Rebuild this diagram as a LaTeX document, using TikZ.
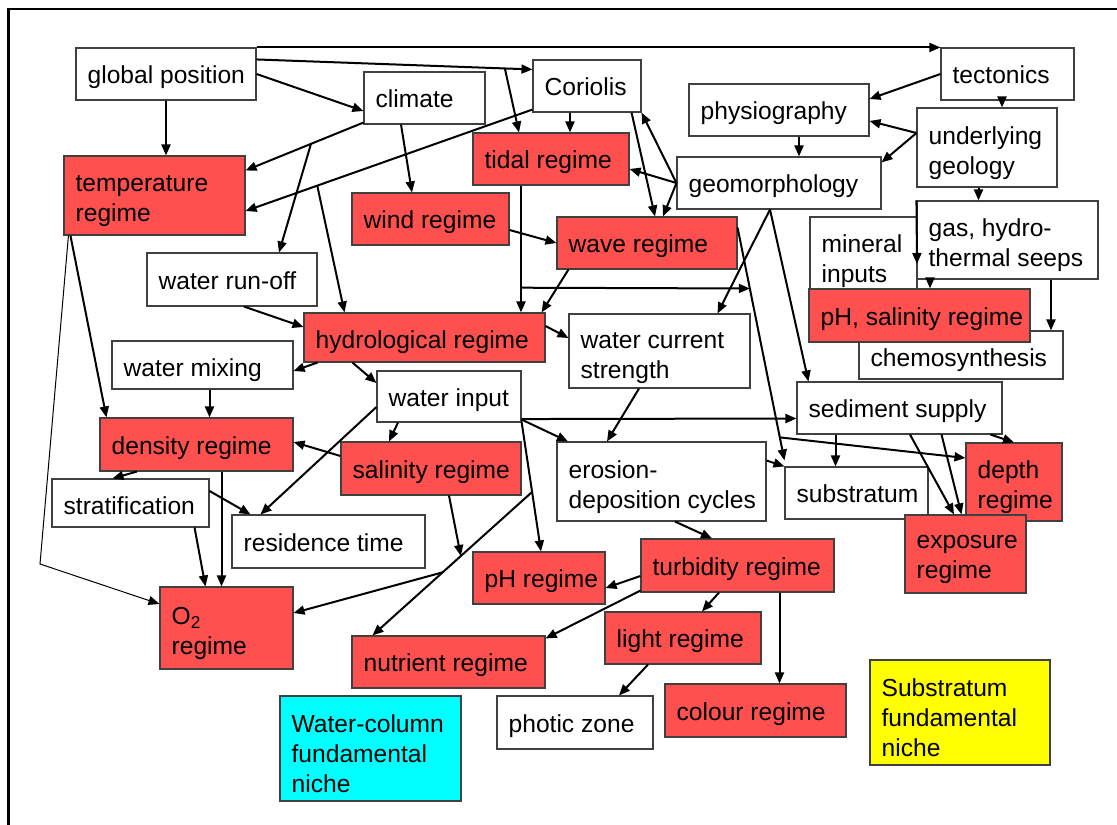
\documentclass[tikz,border=0pt]{standalone}
\usepackage{fontspec}
\setmainfont{Liberation Sans}
\usetikzlibrary{arrows.meta}
\definecolor{regimered}{RGB}{255,80,80}
\definecolor{nichecyan}{RGB}{0,255,255}
\definecolor{nicheyellow}{RGB}{255,255,0}
\tikzset{
  box/.style args={#1x#2}{draw=black!75, line width=1.1pt, fill=white,
    minimum width=#1pt, minimum height=#2pt, inner sep=0pt},
  regime/.style={fill=regimered},
  txt/.style={anchor=west, align=left, inner xsep=12pt, inner ysep=0pt, yshift=-3.5pt,
    execute at begin node=\strut, execute at end node=\strut},
  txt2/.style={txt, yshift=-4pt},
  arr/.style={line width=2pt, -{Triangle[length=11pt,width=9pt]}},
  thinarr/.style={line width=1pt, -{Triangle[length=11pt,width=9pt]}},
}
\begin{document}
\begin{tikzpicture}[x=1pt, y=-1pt, font=\fontsize{24.6}{30}\selectfont]
  \useasboundingbox (0,0) rectangle (1117,825);
  \draw[line width=2.2pt] (8.5,825) -- (8.5,9) -- (1117,9);

  \node[box=180x52, label={[txt]west:{global position}}] (gpos) at (166,74) {};
  \node[box=121x52, label={[txt]west:{climate}}] (climate) at (424.5,98) {};
  \node[box=108x52, label={[txt]west:{Coriolis}}] (corio) at (587,86) {};
  \node[box=133x52, label={[txt]west:{tectonics}}] (tecto) at (1007.5,74) {};
  \node[box=180x52, label={[txt]west:{physiography}}] (physio) at (779,110) {};
  \node[box=204x52, label={[txt]west:{geomorphology}}] (geomo) at (779,183) {};
  \node[box=140x79, label={[txt2]west:{underlying\\geology}}] (geol) at (987,147.5) {};
  \node[box=181x79, regime, label={[txt2]west:{temperature\\regime}}] (temp) at (154.5,195.5) {};
  \node[box=156x52, regime, label={[txt]west:{tidal regime}}] (tidal) at (551,159) {};
  \node[box=157x52, regime, label={[txt]west:{wind regime}}] (wind) at (430.5,219) {};
  \node[box=180x52, regime, label={[txt]west:{wave regime}}] (wave) at (647,243) {};
  \node[box=170x53, label={[txt]west:{water run-off}}] (runoff) at (232,279.5) {};
  \node[box=241x49, regime, label={[txt, yshift=-1.5pt]west:{hydrological regime}}] (hydro) at (424.5,337.5) {};
  \node[box=181x74, label={[txt2, yshift=-2pt]west:{water current\\strength}}] (curr) at (659.5,351) {};
  \node[box=181x48, label={[txt, yshift=-1.5pt]west:{water mixing}}] (mixing) at (202.5,365) {};
  \node[box=144x51, label={[txt]west:{water input}}] (input) at (449,396.5) {};
  \node[box=193x53, regime, label={[txt]west:{density regime}}] (density) at (196.5,444.5) {};
  \node[box=180x53, regime, label={[txt]west:{salinity regime}}] (salin) at (431,468.5) {};
  \node[box=209x79, label={[txt2]west:{erosion-\\deposition cycles}}] (erosion) at (661.5,481.5) {};
  \node[box=157x48, label={[txt, yshift=-1.5pt]west:{stratification}}] (strat) at (130.5,503) {};
  \node[box=193x53, label={[txt]west:{residence time}}] (resid) at (328.5,541.5) {};
  \node[box=133x82, regime, label={[txt2]west:{O\textsubscript{2}\\regime}}] (oxy) at (226.5,628) {};
  \node[box=132x52, regime, label={[txt]west:{pH regime}}] (phreg) at (539,578) {};
  \node[box=193x53, regime, label={[txt]west:{turbidity regime}}] (turb) at (737.5,565.5) {};
  \node[box=156x52, regime, label={[txt]west:{light regime}}] (light) at (683,638) {};
  \node[box=193x52, regime, label={[txt]west:{nutrient regime}}] (nutri) at (448.5,662) {};
  \node[box=156x53, label={[txt]west:{photic zone}}] (photic) at (575,722.5) {};
  \node[box=181x53, regime, label={[txt]west:{colour regime}}] (colour) at (755.5,710.5) {};
  \node[box=181x105, fill=nichecyan, label={[txt2, yshift=-2.5pt]west:{Water-column\\fundamental\\niche}}] (wcniche) at (370.5,748.5) {};
  \node[box=180x105, fill=nicheyellow, label={[txt2, yshift=-2.5pt]west:{Substratum\\fundamental\\niche}}] (subniche) at (960,712.5) {};
  \node[box=204x48, label={[txt, yshift=-1.5pt]west:{chemosynthesis}}] (chemo) at (961,355) {};
  \node[box=107x78, label={[txt2]west:{mineral\\inputs}}] (mineral) at (863.5,256) {};
  \node[box=181x78, label={[txt2]west:{gas, hydro-\\thermal seeps}}] (seeps) at (1007.5,240) {};
  \node[box=221x53, regime, label={[txt]west:{pH, salinity regime}}] (phsal) at (919.5,315.5) {};
  \node[box=205x52, label={[txt]west:{sediment supply}}] (sedim) at (899.5,408) {};
  \node[box=143x52, label={[txt]west:{substratum}}] (substr) at (856.5,493) {};
  \node[box=96x78, regime, label={[txt2]west:{depth\\regime}}] (depth) at (1014,482) {};
  \node[box=121x78, regime, label={[txt2]west:{exposure\\regime}}] (expo) at (965.5,554) {};

  \coordinate (mineralTip) at (917,264);
  \coordinate (oxyBend) at (40,564);

  \begin{scope}[arr]
    \draw (gpos.north east) -- (tecto.north west);
    \draw ([yshift=-12pt]gpos.north east) -- coordinate[pos=0.9] (tideFork) ([yshift=-10pt]corio.north west);
    \draw (tideFork) -- ([xshift=-32pt]tidal.north);
    \draw (gpos.east) -- ([yshift=-13pt]climate.west);
    \draw (gpos.south) -- (gpos.south |- temp.north);
    \draw ([yshift=2pt]climate.south west) -- coordinate[pos=0.445] (runFork) ([yshift=-15pt]temp.north east);
    \draw (runFork) -- ([xshift=47pt]runoff.north);
    \draw ([xshift=-23.5pt]climate.south) -- ([xshift=-18.5pt]wind.north);
    \draw ([yshift=3pt]corio.south west) -- coordinate[pos=0.75] (hydroFork) ([yshift=-15.5pt]temp.east);
    \draw (hydroFork) -- ([xshift=-80pt]hydro.north);
    \draw ([xshift=-17pt]corio.south) -- ([xshift=19pt]tidal.north);
    \draw ([xshift=-10pt]corio.south east) -- ([xshift=8pt]wave.north);
    \draw (geomo.west) -- (corio.south east);
    \draw (geomo.west) -- ([yshift=-10pt]tidal.east);
    \draw (geomo.west) -- ([xshift=16pt]wave.north);
    \draw ([xshift=-9pt]geomo.south) -- ([xshift=58pt]curr.north);
    \draw ([xshift=-9pt]geomo.south) -- ([xshift=12pt]sedim.north west);
    \draw (tecto.west) -- ([yshift=11pt]physio.east);
    \draw ([xshift=-5.5pt]tecto.south) -- ([xshift=15pt]geol.north);
    \draw ([xshift=20pt]physio.south) -- ([xshift=20pt]geomo.north);
    \draw ([yshift=14.5pt]geol.west) -- ([yshift=-11pt]physio.east);
    \draw ([yshift=14.5pt]geol.west) -- ([yshift=-6pt]geomo.north east);
    \draw ([xshift=-8.5pt]geol.south) -- ([xshift=-29pt]seeps.north);
    \draw (seeps.north west) -- (mineralTip);
    \draw ([xshift=-77.5pt]seeps.south) -- ([xshift=10.5pt]phsal.north);
    \draw ([xshift=43.5pt]seeps.south) -- ([xshift=90pt]chemo.north);
    \draw ([xshift=-30pt]tidal.south) -- coordinate[pos=0.805] (tideMid) ([xshift=96.5pt]hydro.north);
    \draw ([yshift=-11pt]wind.east) -- (wave.west);
    \draw ([xshift=12pt]wave.south west) -- ([xshift=-4pt]hydro.north east);
    \draw ([yshift=-11pt]wave.north east) -- coordinate[pos=0.262] (waveMarkA) coordinate[pos=0.901] (waveMarkB) ([yshift=6pt]substr.north west);
    \draw (tideMid) -- (waveMarkA);
    \draw (waveMarkB) -- ([yshift=24pt]depth.west);
    \draw ([xshift=12pt]runoff.south) -- ([yshift=10.5pt]hydro.west);
    \draw ([yshift=11.5pt]hydro.east) -- ([yshift=13pt]curr.west);
    \draw ([xshift=14pt]hydro.south west) -- ([yshift=-6pt]mixing.east);
    \draw ([xshift=49pt]hydro.south west) -- ([yshift=13.5pt]input.west);
    \draw ([xshift=7pt]mixing.south) -- ([xshift=13pt]density.north);
    \draw ([xshift=7pt]temp.south west) -- ([xshift=7pt]density.north west);
    \draw[thinarr] ([xshift=5pt]temp.south west) -- (oxyBend) -- ([yshift=24pt]oxy.west);
    \draw ([xshift=-51pt]input.south) -- ([xshift=-42pt]salin.north);
    \draw ([yshift=-10.5pt]input.west) -- ([xshift=29pt]resid.north west);
    \draw ([yshift=3pt]input.south east) -- ([xshift=11.5pt]erosion.north west);
    \draw ([yshift=3.5pt]input.south east) -- ([yshift=-10.5pt]sedim.west);
    \draw ([yshift=1pt]input.south east) -- coordinate[pos=0.542] (nutriFork) ([xshift=2pt]phreg.north);
    \draw (nutriFork) -- coordinate[pos=0.4465] (salinJoin) coordinate[pos=0.56] (oxyFork) ([xshift=21pt]nutri.north west);
    \draw ([xshift=18pt]salin.south) -- (salinJoin);
    \draw (oxyFork) -- ([yshift=15pt]oxy.east);
    \draw ([yshift=12.5pt]salin.west) -- ([yshift=2.5pt]density.east);
    \draw ([xshift=37.5pt]density.south west) -- ([xshift=-18pt]strat.north);
    \draw ([xshift=25pt]density.south) -- ([xshift=-5pt]oxy.north);
    \draw ([yshift=12pt]strat.east) -- ([xshift=19pt]resid.north west);
    \draw ([xshift=-15pt]strat.south east) -- ([xshift=46pt]oxy.north west);
    \draw ([xshift=-20.5pt]curr.south) -- ([xshift=-54.5pt]erosion.north);
    \draw ([yshift=21pt]erosion.east) -- (substr.north west);
    \draw ([xshift=13.5pt]erosion.south) -- ([xshift=-25.5pt]turb.north);
    \draw ([xshift=-64pt]sedim.south) -- ([xshift=-21pt]substr.north);
    \draw ([xshift=-12pt]sedim.south east) -- (depth.north);
    \draw ([xshift=10.5pt]sedim.south) -- ([xshift=-11.5pt]expo.north);
    \draw ([xshift=42pt]sedim.south) -- ([xshift=-4pt]expo.north);
    \draw ([yshift=-10.5pt]turb.west) -- ([yshift=-10pt]phreg.east);
    \draw ([yshift=2pt]turb.south west) -- ([yshift=-3pt]nutri.north east);
    \draw ([xshift=-18.5pt]turb.south) -- ([xshift=19pt]light.north);
    \draw ([xshift=42pt]turb.south) -- ([xshift=24pt]colour.north);
    \draw ([xshift=-35pt]light.south) -- ([xshift=44pt]photic.north);
  \end{scope}
\end{tikzpicture}
\end{document}
